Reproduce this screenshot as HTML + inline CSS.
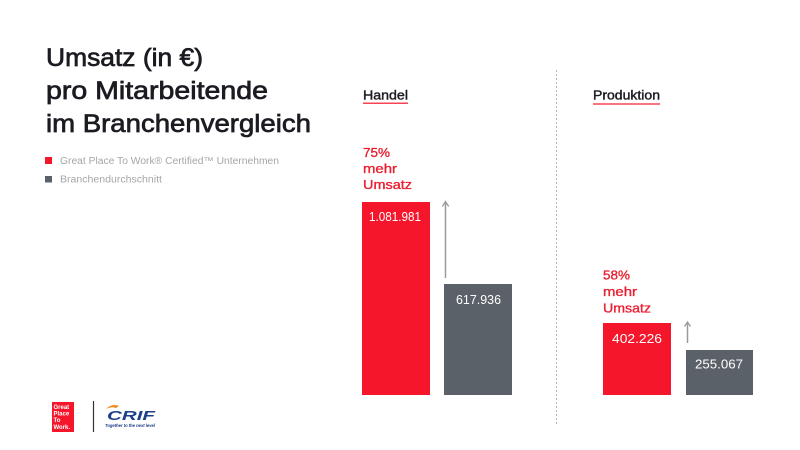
<!DOCTYPE html>
<html><head><meta charset="utf-8"><style>
html,body{margin:0;padding:0;background:#fff;}
svg{display:block;}
text{font-family:"Liberation Sans",sans-serif;}
</style></head><body>
<svg width="800" height="450" viewBox="0 0 800 450" xmlns="http://www.w3.org/2000/svg">
<rect width="800" height="450" fill="#fff"/>
<!-- Title -->
<g fill="#1b1b22" stroke="#1b1b22" stroke-width="0.7" font-size="25">
<text x="46" y="66" textLength="157" lengthAdjust="spacingAndGlyphs">Umsatz (in €)</text>
<text x="46" y="99" textLength="222" lengthAdjust="spacingAndGlyphs">pro Mitarbeitende</text>
<text x="46" y="132" textLength="265" lengthAdjust="spacingAndGlyphs">im Branchenvergleich</text>
</g>
<!-- Legend -->
<rect x="45" y="157" width="7" height="7" fill="#f5162b"/>
<text x="60" y="164" font-size="10" fill="#a6a6a6" textLength="219" lengthAdjust="spacingAndGlyphs">Great Place To Work® Certified™ Unternehmen</text>
<rect x="45" y="176" width="7" height="6.5" fill="#5b6169"/>
<text x="60" y="182.7" font-size="10" fill="#a6a6a6" textLength="102" lengthAdjust="spacingAndGlyphs">Branchendurchschnitt</text>

<!-- Section headers -->
<text x="363" y="99.5" font-size="12.5" fill="#1b1b22" stroke="#1b1b22" stroke-width="0.4" textLength="45" lengthAdjust="spacingAndGlyphs">Handel</text>
<rect x="363" y="102.6" width="45" height="1.2" fill="#f5162b"/>
<text x="593" y="99.5" font-size="12.5" fill="#1b1b22" stroke="#1b1b22" stroke-width="0.4" textLength="67" lengthAdjust="spacingAndGlyphs">Produktion</text>
<rect x="593" y="103.4" width="67" height="1.2" fill="#f5162b"/>

<!-- Divider -->
<line x1="556.5" y1="70" x2="556.5" y2="424" stroke="#b5b5b5" stroke-width="1" stroke-dasharray="2,2"/>

<!-- Handel -->
<g fill="#ea1f30" stroke="#ea1f30" stroke-width="0.35" font-size="13">
<text x="363" y="157" textLength="27" lengthAdjust="spacingAndGlyphs">75%</text>
<text x="363" y="173" textLength="34" lengthAdjust="spacingAndGlyphs">mehr</text>
<text x="363" y="189" textLength="49" lengthAdjust="spacingAndGlyphs">Umsatz</text>
</g>
<rect x="362" y="202" width="68" height="193" fill="#f5162b"/>
<rect x="444" y="284" width="68" height="111" fill="#5b6169"/>
<text x="369" y="221" font-size="12.5" fill="#fff" textLength="52" lengthAdjust="spacingAndGlyphs">1.081.981</text>
<text x="456" y="304" font-size="12.5" fill="#fff" textLength="45" lengthAdjust="spacingAndGlyphs">617.936</text>
<line x1="445.5" y1="203" x2="445.5" y2="278" stroke="#9a9a9a" stroke-width="1.5"/>
<polyline points="442.3,206.5 445.5,201.5 448.7,206.5" fill="none" stroke="#9a9a9a" stroke-width="1.3"/>

<!-- Produktion -->
<g fill="#ea1f30" stroke="#ea1f30" stroke-width="0.35" font-size="13">
<text x="603" y="279.5" textLength="27" lengthAdjust="spacingAndGlyphs">58%</text>
<text x="603" y="296" textLength="34" lengthAdjust="spacingAndGlyphs">mehr</text>
<text x="603" y="312.5" textLength="48" lengthAdjust="spacingAndGlyphs">Umsatz</text>
</g>
<rect x="603" y="323" width="68" height="72" fill="#f5162b"/>
<rect x="686" y="350" width="67" height="45" fill="#5b6169"/>
<text x="612" y="343" font-size="12.5" fill="#fff" textLength="50" lengthAdjust="spacingAndGlyphs">402.226</text>
<text x="695" y="368.5" font-size="12.5" fill="#fff" textLength="48" lengthAdjust="spacingAndGlyphs">255.067</text>
<line x1="687.5" y1="323" x2="687.5" y2="343" stroke="#9a9a9a" stroke-width="1.5"/>
<polyline points="684.5,326.5 687.5,322 690.5,326.5" fill="none" stroke="#9a9a9a" stroke-width="1.3"/>

<!-- Logos -->
<rect x="52" y="402" width="22" height="30" fill="#f5162b"/>
<g fill="#fff" font-size="6" font-weight="bold">
<text x="53.5" y="409">Great</text>
<text x="53.5" y="415.5">Place</text>
<text x="53.5" y="422">To</text>
<text x="53.5" y="429">Work.</text>
</g>
<line x1="93.5" y1="401" x2="93.5" y2="432" stroke="#333" stroke-width="1.2"/>
<path d="M106,409 Q112,403 119,406 L116,408 Q112,406 106,409 Z" fill="#f08a1c"/>
<text x="107" y="420" font-size="13" font-weight="bold" font-style="italic" fill="#1c3f8a" textLength="48" lengthAdjust="spacingAndGlyphs">CRIF</text>
<text x="105" y="427" font-size="4.2" font-style="italic" font-weight="bold" fill="#1c3f8a" textLength="50" lengthAdjust="spacingAndGlyphs">Together to the next level</text>
</svg>
</body></html>
